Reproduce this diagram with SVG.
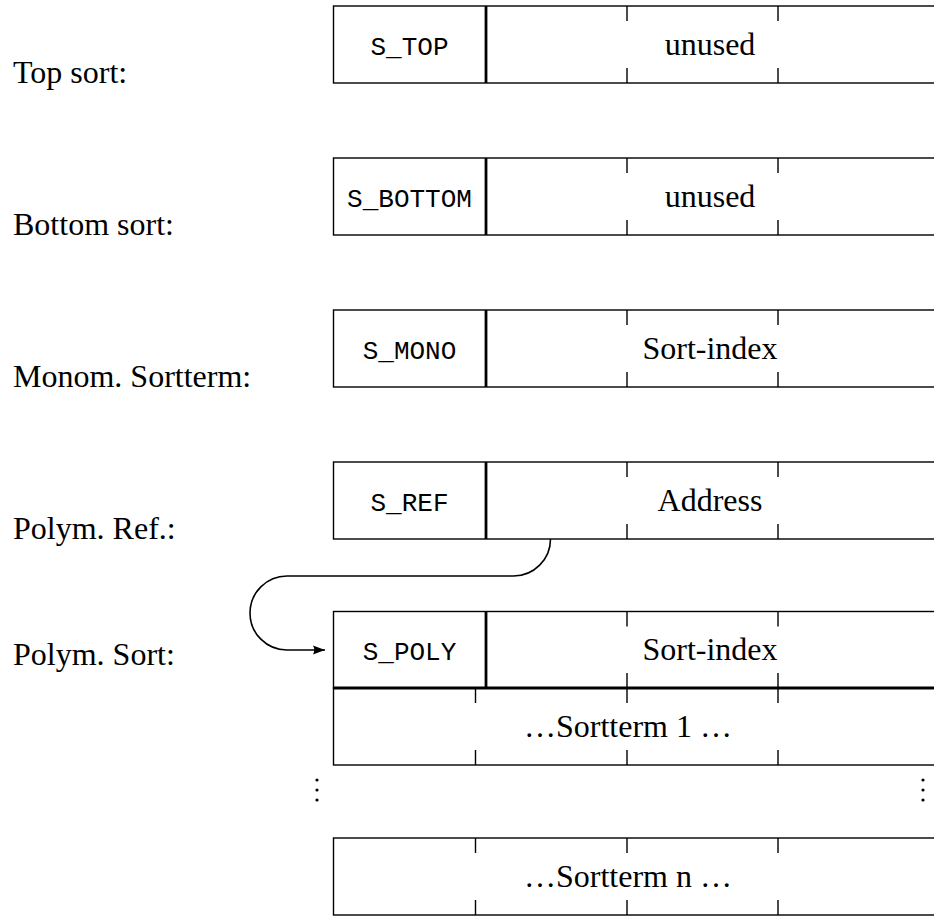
<svg xmlns="http://www.w3.org/2000/svg" width="934" height="916" viewBox="0 0 934 916">
<style>
.box{fill:none;stroke:#000;stroke-width:1.4}
.thick{fill:none;stroke:#000;stroke-width:2.8}
.tick{fill:none;stroke:#000;stroke-width:1.4}
.lbl{font-family:"Liberation Serif","Times New Roman",serif;font-size:32px;fill:#000}
.tt{font-family:"Liberation Mono","Courier New",monospace;font-size:26px;fill:#000}
.rm{font-family:"Liberation Serif","Times New Roman",serif;font-size:32px;fill:#000}
.conn{fill:none;stroke:#000;stroke-width:1.6}
</style>
<defs>
<marker id="arr" markerUnits="userSpaceOnUse" markerWidth="14" markerHeight="12" refX="12" refY="6" orient="auto">
<path d="M0,1.5 L12,6 L0,10.5 Q2.5,6 0,1.5 Z" fill="#000"/>
</marker>
</defs>
<rect width="934" height="916" fill="#fff"/>

<g id="labels">
<text class="lbl" x="13" y="83">Top sort:</text>
<text class="lbl" x="13" y="235">Bottom sort:</text>
<text class="lbl" x="13" y="387">Monom. Sortterm:</text>
<text class="lbl" x="13" y="539">Polym. Ref.:</text>
<text class="lbl" x="13" y="665">Polym. Sort:</text>
</g>

<g id="top-sort">
<rect class="box" x="333.5" y="6" width="620" height="77"/>
<line class="thick" x1="486" y1="6" x2="486" y2="83"/>
<path class="tick" d="M627,6v15M627,83v-15M778,6v15M778,83v-15"/>
<text class="tt" x="409.5" y="55" text-anchor="middle">S_TOP</text>
<text class="rm" x="710" y="55" text-anchor="middle">unused</text>
</g>

<g id="bottom-sort">
<rect class="box" x="333.5" y="158" width="620" height="77"/>
<line class="thick" x1="486" y1="158" x2="486" y2="235"/>
<path class="tick" d="M627,158v15M627,235v-15M778,158v15M778,235v-15"/>
<text class="tt" x="409.5" y="207" text-anchor="middle">S_BOTTOM</text>
<text class="rm" x="710" y="207" text-anchor="middle">unused</text>
</g>

<g id="monom-sortterm">
<rect class="box" x="333.5" y="310" width="620" height="77"/>
<line class="thick" x1="486" y1="310" x2="486" y2="387"/>
<path class="tick" d="M627,310v15M627,387v-15M778,310v15M778,387v-15"/>
<text class="tt" x="409.5" y="359" text-anchor="middle">S_MONO</text>
<text class="rm" x="710" y="359" text-anchor="middle">Sort-index</text>
</g>

<g id="polym-ref">
<rect class="box" x="333.5" y="462" width="620" height="77"/>
<line class="thick" x1="486" y1="462" x2="486" y2="539"/>
<path class="tick" d="M627,462v15M627,539v-15M778,462v15M778,539v-15"/>
<text class="tt" x="409.5" y="511" text-anchor="middle">S_REF</text>
<text class="rm" x="710" y="511" text-anchor="middle">Address</text>
</g>

<g id="polym-sort">
<rect class="box" x="333.5" y="611.5" width="620" height="76.5"/>
<line class="thick" x1="486" y1="611.5" x2="486" y2="688"/>
<line class="thick" x1="333.5" y1="688" x2="940" y2="688"/>
<path class="tick" d="M627,611.5v15M627,688v-15M778,611.5v15M778,688v-15"/>
<text class="tt" x="409.5" y="660" text-anchor="middle">S_POLY</text>
<text class="rm" x="710" y="660" text-anchor="middle">Sort-index</text>
</g>

<g id="sortterm-1">
<rect class="box" x="333.5" y="688" width="620" height="77"/>
<path class="tick" d="M475.5,688v15M475.5,765v-15M627,688v15M627,765v-15M778,688v15M778,765v-15"/>
<text class="rm" x="628" y="737" text-anchor="middle">…Sortterm 1 …</text>
</g>

<g id="dots">
<circle cx="317" cy="780" r="1.6"/>
<circle cx="317" cy="790" r="1.6"/>
<circle cx="317" cy="800" r="1.6"/>
<circle cx="923" cy="780" r="1.6"/>
<circle cx="923" cy="790" r="1.6"/>
<circle cx="923" cy="800" r="1.6"/>
</g>

<g id="sortterm-n">
<rect class="box" x="333.5" y="838" width="620" height="77"/>
<path class="tick" d="M475.5,838v15M475.5,915v-15M627,838v15M627,915v-15M778,838v15M778,915v-15"/>
<text class="rm" x="628" y="887" text-anchor="middle">…Sortterm n …</text>
</g>

<g id="connectors">
<path class="conn" d="M550.5,539 A37,37 0 0 1 513.5,576 L287,576 A37,37 0 0 0 287,650 L325,650" marker-end="url(#arr)"/>
</g>
</svg>
